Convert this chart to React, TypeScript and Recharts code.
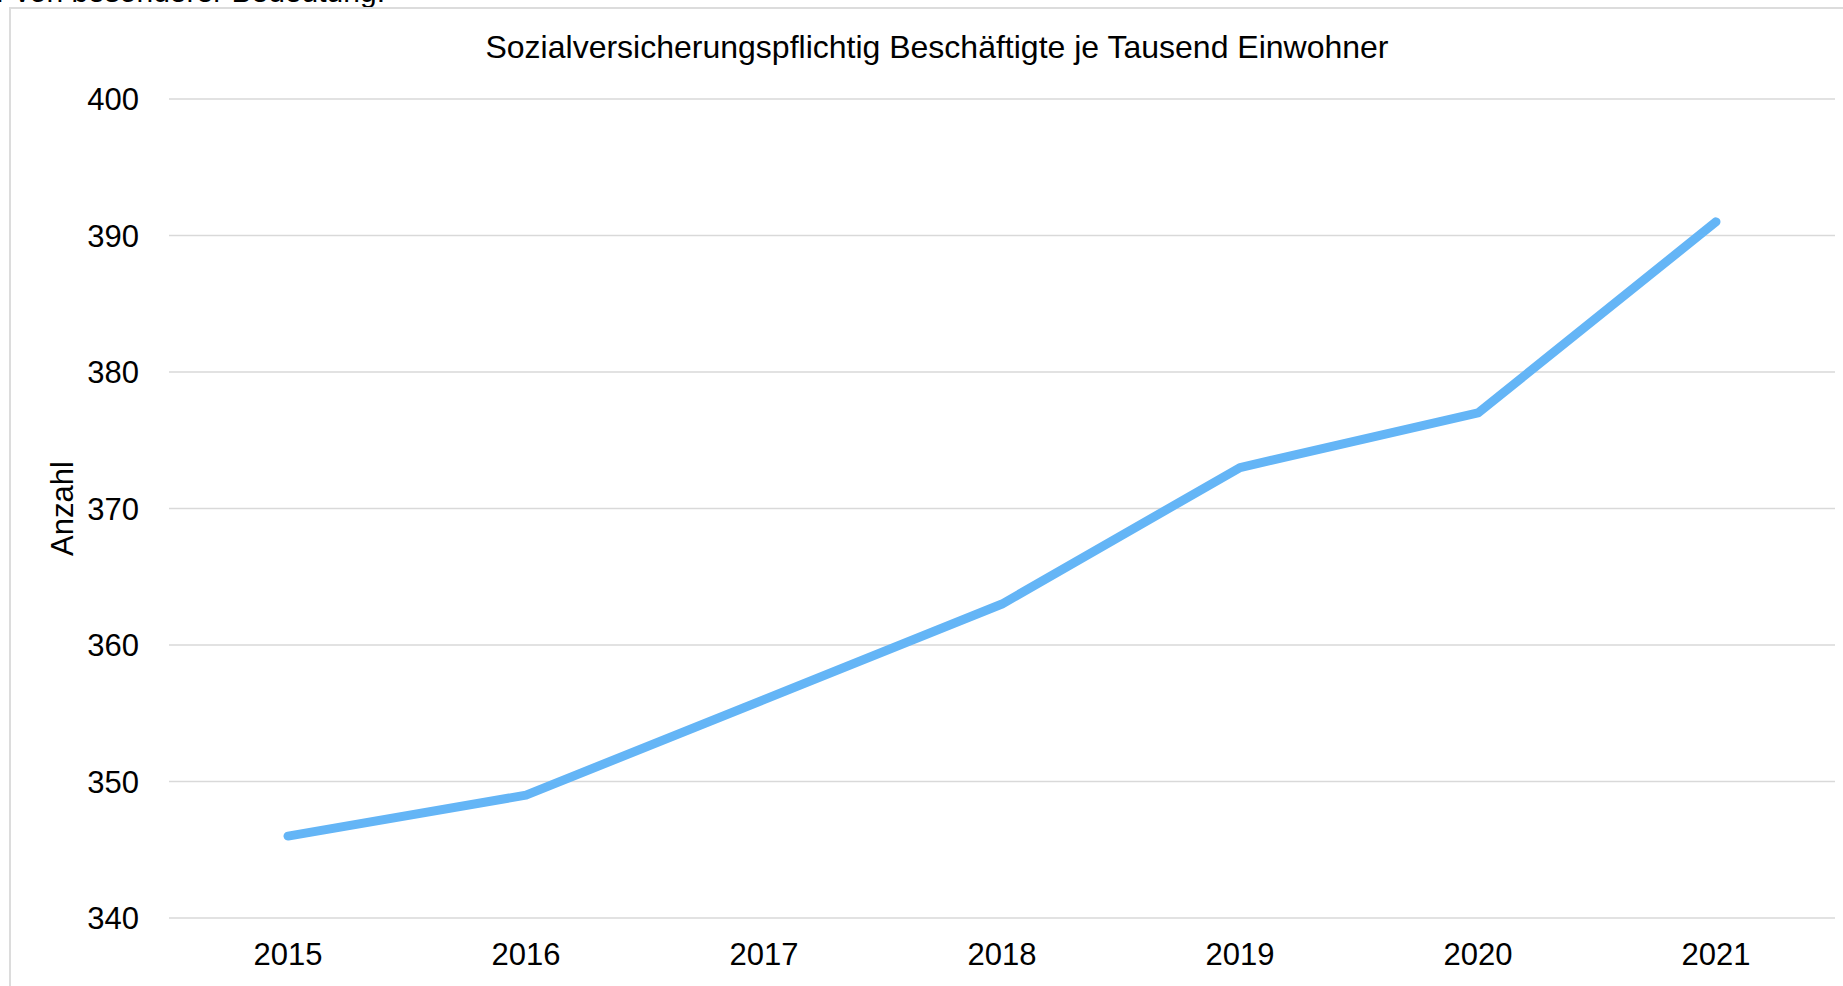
import { LineChart, Line, XAxis, YAxis, CartesianGrid, Label } from 'recharts'

const years = ['2015', '2016', '2017', '2018', '2019', '2020', '2021']
const perThousand = [346, 349, 356, 363, 373, 377, 391]
const yTicks = [340, 350, 360, 370, 380, 390, 400]

const chartTitle = 'Sozialversicherungspflichtig Beschäftigte je Tausend Einwohner'
const yAxisTitle = 'Anzahl'
const cutOffText = 'r von besonderer Bedeutung.'

const data = years.map((year, i) => ({ year, value: perThousand[i] }))

const font = '"Liberation Sans", Arial, sans-serif'

function YTitle({ viewBox }: any) {
    const cy = viewBox.y + viewBox.height / 2
    const cx = 62
    return (
        <text
            x={cx}
            y={cy}
            transform={`rotate(-90, ${cx}, ${cy})`}
            textAnchor="middle"
            dominantBaseline="central"
            fontSize={31}
            fill="#000"
            fontFamily={font}
        >
            {yAxisTitle}
        </text>
    )
}

export default function App() {
    return (
        <div style={{ position: 'fixed', inset: 0, overflow: 'hidden', background: '#fff', fontFamily: font }}>
            {/* text from the page above, cut by the screenshot */}
            <div
                style={{
                    position: 'absolute',
                    left: 0,
                    top: -25,
                    width: 385,
                    display: 'flex',
                    justifyContent: 'flex-end',
                    whiteSpace: 'nowrap',
                    fontSize: 30,
                    color: '#000',
                }}
            >
                {cutOffText}
            </div>

            {/* chart frame */}
            <div
                style={{
                    position: 'absolute',
                    left: 9,
                    top: 7,
                    width: 1900,
                    height: 1100,
                    borderLeft: '2px solid #dcdcdc',
                    borderTop: '2px solid #dcdcdc',
                }}
            />

            <div
                style={{
                    position: 'absolute',
                    left: 0,
                    right: 0,
                    top: 27,
                    textAlign: 'center',
                    paddingLeft: 31,
                    fontSize: 32,
                    color: '#000',
                    lineHeight: '40px',
                }}
            >
                {chartTitle}
            </div>

            <div style={{ position: 'absolute', left: 0, top: 0 }}>
                <LineChart
                    width={1843}
                    height={986}
                    data={data}
                    margin={{ top: 99, right: 8, bottom: 0, left: 0 }}
                >
                    <CartesianGrid vertical={false} stroke="#d9d9d9" strokeWidth={1.5} />
                    <XAxis
                        dataKey="year"
                        height={68}
                        axisLine={false}
                        tickLine={false}
                        tickSize={0}
                        tickMargin={25}
                        padding={{ left: 119, right: 119 }}
                        tick={{ fontSize: 31, fill: '#000', fontFamily: font }}
                    />
                    <YAxis
                        width={169}
                        domain={[340, 400]}
                        ticks={yTicks}
                        axisLine={false}
                        tickLine={false}
                        tickSize={0}
                        tickMargin={30}
                        tick={{ fontSize: 31, fill: '#000', fontFamily: font }}
                    >
                        <Label content={YTitle} />
                    </YAxis>
                    <Line
                        type="linear"
                        dataKey="value"
                        stroke="#64b5f6"
                        strokeWidth={9}
                        strokeLinecap="round"
                        strokeLinejoin="round"
                        dot={false}
                        activeDot={false}
                        isAnimationActive={false}
                    />
                </LineChart>
            </div>
        </div>
    )
}
